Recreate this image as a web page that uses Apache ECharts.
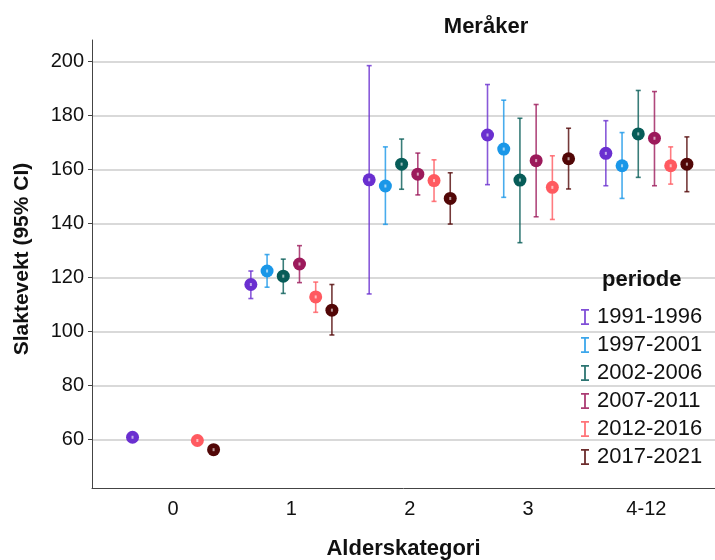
<!DOCTYPE html>
<html>
<head>
<meta charset="utf-8">
<script src="https://cdn.jsdelivr.net/npm/echarts@6/dist/echarts.min.js"></script>
<style>
  html, body { margin: 0; padding: 0; background: #fff; }
  #chart { width: 715px; height: 560px; }
</style>
</head>
<body>
<div id="chart"></div>
<script>
// kategorier og perioder
var ageCats = ['0', '1', '2', '3', '4-12'];
var periods = ['1991-1996', '1997-2001', '2002-2006', '2007-2011', '2012-2016', '2017-2021'];
var colors = ['#6a2fd0', '#1a97e8', '#075c58', '#9c1a5b', '#ff5a60', '#520707'];
var yTicks = [60, 80, 100, 120, 140, 160, 180, 200];

// gjennomsnitt (null = ingen data)
var mean1991 = [60.8, 117.4, 156.2, 172.8, 166.0];
var mean1997 = [null, 122.4, 153.9, 167.6, 161.4];
var mean2002 = [null, 120.5, 162.0, 156.1, 173.2];
var mean2007 = [null, 125.0, 158.3, 163.3, 171.6];
var mean2012 = [59.6, 112.8, 155.9, 153.4, 161.4];
var mean2017 = [56.2, 107.9, 149.3, 164.0, 162.0];

// nedre grense 95% CI
var low1991 = [null, 112.2, 113.9, 154.4, 154.0];
var low1997 = [null, 116.4, 139.7, 149.7, 149.3];
var low2002 = [null, 114.1, 152.7, 132.9, 157.1];
var low2007 = [null, 118.1, 150.6, 142.5, 154.0];
var low2012 = [null, 107.1, 148.2, 141.5, 154.6];
var low2017 = [null, 98.7, 139.8, 152.8, 151.8];

// øvre grense 95% CI
var high1991 = [null, 122.4, 198.5, 191.5, 178.1];
var high1997 = [null, 128.5, 168.4, 185.7, 173.7];
var high2002 = [null, 126.8, 171.3, 179.0, 189.3];
var high2007 = [null, 131.8, 166.1, 184.1, 188.9];
var high2012 = [null, 118.3, 163.6, 165.1, 168.4];
var high2017 = [null, 117.4, 158.8, 175.3, 172.1];

var means = [mean1991, mean1997, mean2002, mean2007, mean2012, mean2017];
var lows = [low1991, low1997, low2002, low2007, low2012, low2017];
var highs = [high1991, high1997, high2002, high2007, high2012, high2017];

var groupStep = 0.137; // avstand mellom perioder innen en kategori

function renderItem(params, api) {
  var x = api.value(0), m = api.value(1), lo = api.value(2), hi = api.value(3);
  var c = api.visual('color');
  var children = [];
  if (!isNaN(lo) && !isNaN(hi)) {
    var pl = api.coord([x, lo]);
    var ph = api.coord([x, hi]);
    var lineStyle = { stroke: c, lineWidth: 1.6, opacity: 0.8 };
    children.push({ type: 'line', shape: { x1: pl[0], y1: pl[1], x2: ph[0], y2: ph[1] }, style: lineStyle });
    children.push({ type: 'line', shape: { x1: pl[0] - 2.5, y1: pl[1], x2: pl[0] + 2.5, y2: pl[1] }, style: lineStyle });
    children.push({ type: 'line', shape: { x1: ph[0] - 2.5, y1: ph[1], x2: ph[0] + 2.5, y2: ph[1] }, style: lineStyle });
  }
  var pm = api.coord([x, m]);
  children.push({ type: 'circle', shape: { cx: pm[0], cy: pm[1], r: 6.5 }, style: { fill: c } });
  children.push({ type: 'rect', shape: { x: pm[0] - 1, y: pm[1] - 1.5, width: 2, height: 3 }, style: { fill: 'rgba(255,255,255,0.6)' } });
  return { type: 'group', children: children };
}

var series = periods.map(function (p, j) {
  var data = [];
  for (var i = 0; i < ageCats.length; i++) {
    if (means[j][i] == null) continue;
    data.push([i + (j - 2.5) * groupStep, means[j][i], lows[j][i], highs[j][i]]);
  }
  return {
    name: p,
    type: 'custom',
    renderItem: renderItem,
    encode: { x: 0, y: [1, 2, 3] },
    data: data
  };
});

var chart = echarts.init(document.getElementById('chart'));
chart.setOption({
  animation: false,
  color: colors,
  textStyle: { fontFamily: 'Liberation Sans, Arial, sans-serif' },
  title: [
    {
      text: 'Meråker',
      left: 481, top: 11, textAlign: 'center',
      textStyle: { fontSize: 22, fontWeight: 'bold', color: '#111' }
    },
    {
      text: 'periode',
      left: 597, top: 264,
      textStyle: { fontSize: 22, fontWeight: 'bold', color: '#111' }
    }
  ],
  legend: {
    orient: 'vertical',
    left: 576, top: 301,
    itemWidth: 8, itemHeight: 16, itemGap: 6,
    icon: 'path://M0,0 H8 V1.8 H4.9 V14.2 H8 V16 H0 V14.2 H3.1 V1.8 H0 Z',
    itemStyle: { opacity: 0.85 },
    textStyle: { fontSize: 22, lineHeight: 22, color: '#111', padding: [0, 0, 0, 3] },
    selectedMode: false,
    data: periods
  },
  grid: { left: 92, right: 0, top: 40, bottom: 72, outerBoundsMode: 'none', containLabel: false },
  xAxis: {
    type: 'value',
    min: -0.685, max: 4.58,
    name: 'Alderskategori',
    nameLocation: 'middle', nameGap: 50,
    nameTextStyle: { fontSize: 22, fontWeight: 'bold', color: '#111' },
    axisLine: { show: true, onZero: false, lineStyle: { color: '#444', width: 1 } },
    axisTick: { show: false },
    splitLine: { show: false },
    axisLabel: {
      customValues: [0, 1, 2, 3, 4],
      formatter: function (v) { return ageCats[Math.round(v)]; },
      fontSize: 20, color: '#111', margin: 11
    }
  },
  yAxis: {
    type: 'value',
    min: 42, max: 208,
    name: 'Slaktevekt (95% CI)',
    nameLocation: 'middle', nameGap: 59,
    nameTextStyle: { fontSize: 21, fontWeight: 'bold', color: '#111', padding: [0, 0, 0, 10] },
    axisLine: { show: true, onZero: false, lineStyle: { color: '#444', width: 1 } },
    axisTick: { show: true, customValues: yTicks, length: 4, lineStyle: { color: '#444' } },
    axisLabel: { customValues: yTicks, fontSize: 20, color: '#111', margin: 8 },
    splitLine: { show: true, lineStyle: { color: '#cccccc', width: 1.5 } }
  },
  series: series
});
</script>
</body>
</html>
